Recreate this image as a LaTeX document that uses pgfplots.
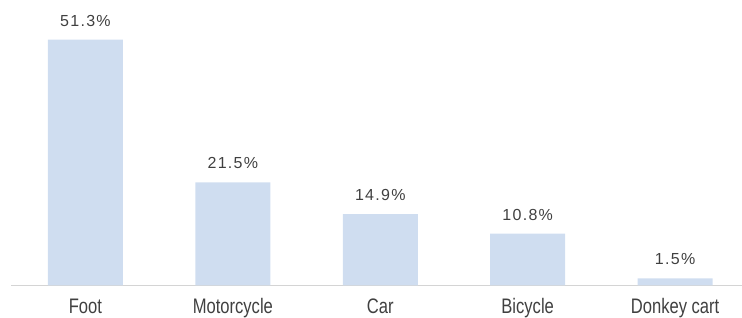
\documentclass[border=0pt]{standalone}
\usepackage{fontspec}
\setmainfont{Liberation Sans}
\newfontfamily\catfont[FakeStretch=0.79]{Liberation Sans}
\newfontfamily\datafont[LetterSpace=8]{Liberation Sans}
\usepackage{pgfplots}
\pgfplotsset{compat=1.18}
\definecolor{barblue}{HTML}{CFDDF0}
\definecolor{txtgray}{HTML}{404040}
\definecolor{axgray}{HTML}{D4D4D4}
\begin{document}
\begin{tikzpicture}
\begin{axis}[
  at={(11pt,32.5pt)}, anchor=south west,
  scale only axis,
  width=731pt, height=285.5pt,
  xmin=-0.505, xmax=4.454,
  ymin=0, ymax=59.54,
  axis x line*=bottom,
  axis y line=none,
  axis line style={draw=axgray, line width=1pt},
  xtick={0,1,2,3,4},
  xticklabels={Foot,Motorcycle,Car,Bicycle,Donkey cart},
  xtick style={draw=none},
  major tick length=0pt,
  xticklabel style={anchor=base, yshift=-27.8pt, text=txtgray,
    font=\catfont\fontsize{21}{21}\selectfont, inner sep=0pt},
  ybar, bar width=75pt, bar shift=0pt,
  nodes near coords={\pgfmathprintnumber[fixed,precision=1,fixed zerofill,assume math mode=true]{\pgfplotspointmeta}\%},
  nodes near coords style={anchor=base, yshift=13.5pt, inner sep=0pt,
    text=txtgray, font=\datafont\fontsize{16}{16}\selectfont},
  clip=false,
]
\addplot[fill=barblue, draw=none] coordinates {(0,51.3) (1,21.5) (2,14.9) (3,10.8) (4,1.5)};
\end{axis}
\pgfresetboundingbox
\path[use as bounding box] (0,0) rectangle (742pt,318pt);
\end{tikzpicture}
\end{document}
